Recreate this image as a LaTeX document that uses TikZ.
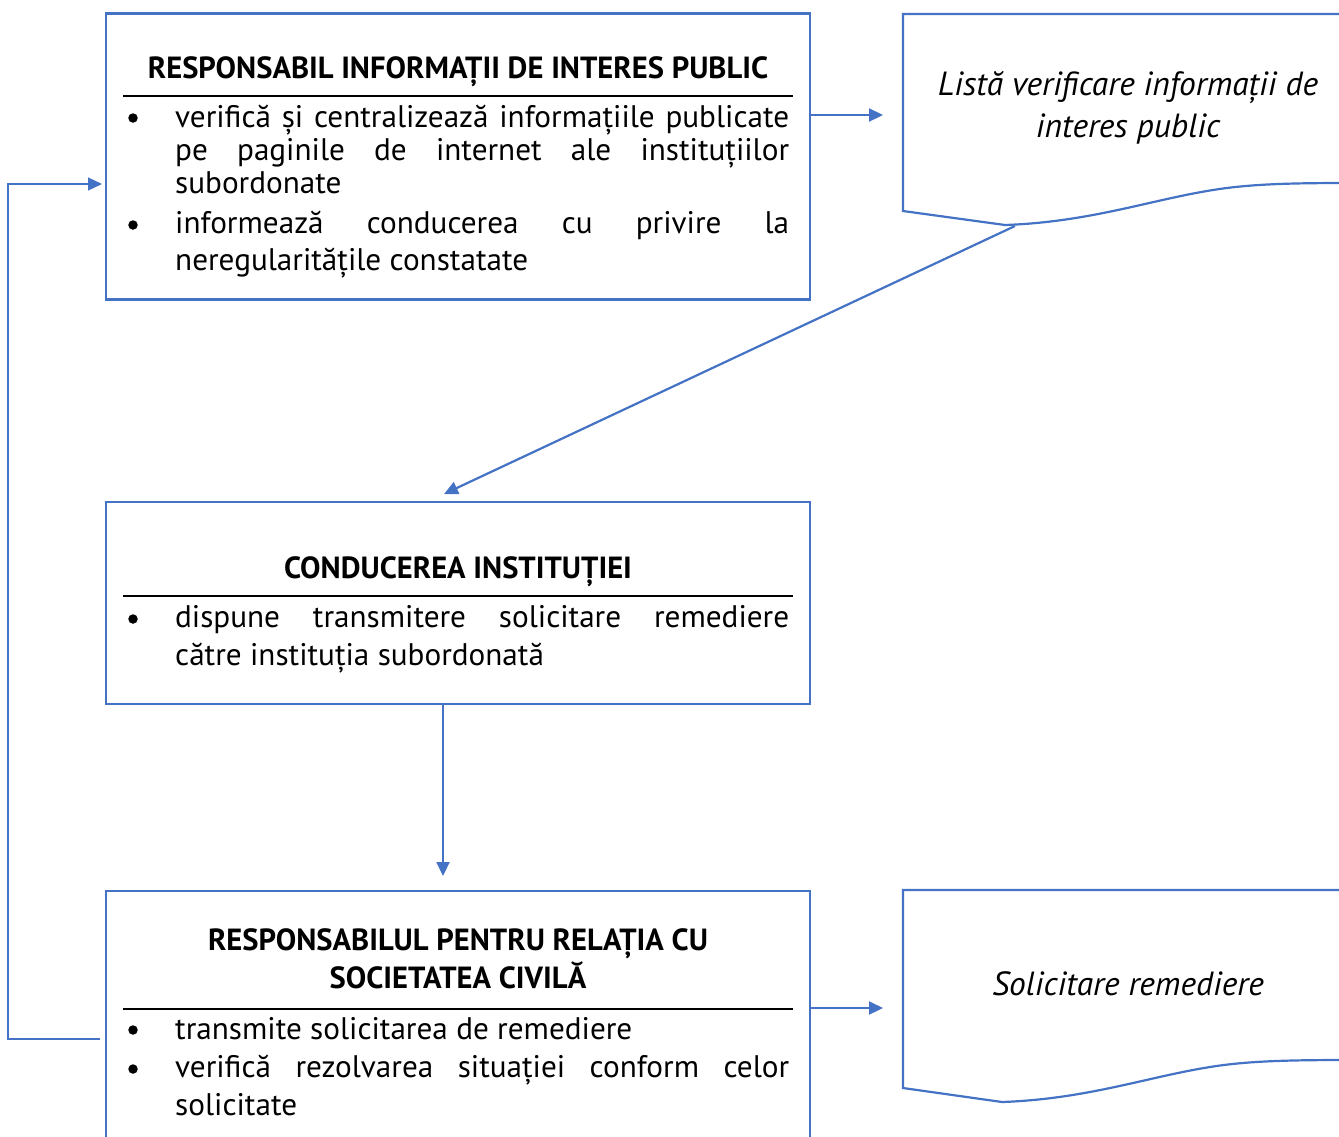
\documentclass[tikz,border=0pt]{standalone}
\usepackage{fontspec}
\setmainfont{PT Sans}
\usetikzlibrary{arrows.meta}
\definecolor{bl}{HTML}{4472C4}
\begin{document}
\begin{tikzpicture}[x=1pt,y=-1pt,
  box/.style={draw=bl,line width=2.2pt,rectangle,inner sep=0pt},
  conn/.style={draw=bl,line width=2.2pt,-{Triangle[length=14pt,width=13pt]}},
  fb/.style={draw=bl,line width=1.3pt,-{Triangle[length=14pt,width=13pt]}},
  rulel/.style={draw=black,line width=1.4pt},
  txt/.style={anchor=base west,inner sep=0pt,font=\fontsize{31.2}{34}\selectfont},
  ttl/.style={anchor=base,inner sep=0pt,font=\fontsize{30.6}{34}\selectfont\bfseries},
  itl/.style={anchor=base,inner sep=0pt,font=\fontsize{33.5}{34}\selectfont\itshape},
  dot/.style={circle,fill=black,inner sep=0pt,minimum size=9.5pt},
  doc/.style={draw=bl,line width=2.2pt}
]
\useasboundingbox (0,0) rectangle (1339,1136);

% Boxes
\node[box,minimum width=704pt,minimum height=286pt] (b1) at (458,156.5) {};
\node[box,minimum width=704pt,minimum height=202pt] (b2) at (458,603) {};
\node[box,minimum width=704pt,minimum height=280pt] (b3) at (458,1031) {};

% Documents
\draw[doc] (1350,14) -- (903,14) -- (903,211) -- (1005,225)
  .. controls (1090,222) and (1150,200) .. (1213,190)
  .. controls (1250,184) and (1290,183) .. (1350,183);
\draw[doc] (1350,890) -- (903,890) -- (903,1088) -- (1002,1102)
  .. controls (1087,1099) and (1147,1077) .. (1210,1067)
  .. controls (1247,1061) and (1287,1060) .. (1350,1060);

% Box 1 text
\node[ttl] (t1) at (458,78) {RESPONSABIL INFORMAȚII DE INTERES PUBLIC};
\draw[rulel] (123,96) -- (793,96);
\node[dot] (d11) at (133,118) {};
\node[txt] (l11) at (175,127) {\makebox[614pt][s]{verifică și centralizează informațiile publicate}};
\node[txt] (l12) at (175,160) {\makebox[614pt][s]{pe paginile de internet ale instituțiilor}};
\node[txt] (l13) at (175,193) {subordonate};
\node[dot] (d12) at (133,225) {};
\node[txt] (l14) at (175,233) {\makebox[614pt][s]{informează conducerea cu privire la}};
\node[txt] (l15) at (175,270) {neregularitățile constatate};

% Box 2 text
\node[ttl] (t2) at (458,578) {CONDUCEREA INSTITUȚIEI};
\draw[rulel] (123,596) -- (793,596);
\node[dot] (d21) at (133,619) {};
\node[txt] (l21) at (175,627) {\makebox[614pt][s]{dispune transmitere solicitare remediere}};
\node[txt] (l22) at (175,665) {către instituția subordonată};

% Box 3 text
\node[ttl] (t31) at (458,950) {RESPONSABILUL PENTRU RELAȚIA CU};
\node[ttl] (t32) at (458,988) {SOCIETATEA CIVILĂ};
\draw[rulel] (123,1009) -- (793,1009);
\node[dot] (d31) at (133,1030) {};
\node[txt] (l31) at (175,1039) {transmite solicitarea de remediere};
\node[dot] (d32) at (133,1069) {};
\node[txt] (l32) at (175,1077) {\makebox[614pt][s]{verifică rezolvarea situației conform celor}};
\node[txt] (l33) at (175,1115) {solicitate};

% Document texts
\node[itl] (dt1) at (1128,95) {Listă verificare informații de};
\node[itl] (dt2) at (1128,137) {interes public};
\node[itl] (dt3) at (1128,995) {Solicitare remediere};

% Connector coordinates
\coordinate (d1in) at (883,115);
\coordinate (d1out) at (1015,226);
\coordinate (b2in) at (444,494);
\coordinate (b2out) at (443,704);
\coordinate (b3in) at (443,876);
\coordinate (d2in) at (883,1008);
\coordinate (fbs) at (100,1039);
\coordinate (fbe) at (102,184);

% Connectors
\draw[conn] (b1.east |- d1in) -- (d1in);
\draw[conn] (d1out) -- (b2in);
\draw[conn] (b2out) -- (b3in);
\draw[conn] (b3.east |- d2in) -- (d2in);
\draw[fb] (fbs) -- (8,1039) -- (8,184) -- (fbe);
\end{tikzpicture}
\end{document}
